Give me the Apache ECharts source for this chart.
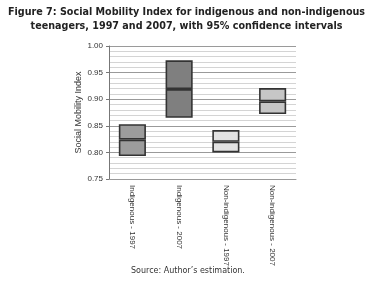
<!DOCTYPE html>
<html>
<head>
<meta charset="utf-8">
<script src="https://cdn.jsdelivr.net/npm/echarts@6/dist/echarts.min.js"></script>
<style>
  html,body{margin:0;padding:0;background:#fff;}
  #main{width:373px;height:289px;}
</style>
</head>
<body>
<div id="main"></div>
<script>
  // categories and confidence intervals
  var groups = ['Indigenous - 1997', 'Indigenous - 2007', 'Non-indigenous - 1997', 'Non-indigenous - 2007'];
  var lowVals = [0.793, 0.865, 0.800, 0.872];
  var midVals = [0.824, 0.919, 0.820, 0.896];
  var highVals = [0.853, 0.973, 0.842, 0.921];
  var boxColors = ['#9c9c9c', '#7f7f7f', '#e2e2e2', '#c6c6c6'];

  var lowPart = [], highPart = [];
  for (var i = 0; i < groups.length; i++) {
    lowPart[i] = {value: +(midVals[i] - lowVals[i]).toFixed(4), itemStyle: {color: boxColors[i]}};
    highPart[i] = {value: +(highVals[i] - midVals[i]).toFixed(4), itemStyle: {color: boxColors[i]}};
  }

  var chart = echarts.init(document.getElementById('main'));
  var option = {
    animation: false,
    title: [{
      text: 'Figure 7: Social Mobility Index for indigenous and non-indigenous\nteenagers, 1997 and 2007, with 95% confidence intervals',
      left: 'center', top: 0,
      textStyle: {fontFamily: 'DejaVu Sans', fontWeight: 'bold', fontSize: 9.6, lineHeight: 14, color: '#222'}
    }, {
      text: 'Source: Author\u2019s estimation.',
      left: 126, top: 262,
      textStyle: {fontFamily: 'DejaVu Sans', fontWeight: 'normal', fontSize: 8, color: '#333'}
    }],
    grid: {left: 109, right: 77, top: 46, bottom: 110},
    xAxis: {
      type: 'category',
      data: groups,
      axisLine: {lineStyle: {color: '#999'}},
      axisTick: {show: false},
      axisLabel: {rotate: -90, interval: 0, fontSize: 8, fontFamily: 'Liberation Sans', color: '#333', margin: 6}
    },
    yAxis: {
      type: 'value',
      min: 0.75, max: 1.0, interval: 0.05,
      name: 'Social Mobility Index',
      nameLocation: 'middle', nameGap: 26, nameMoveOverlap: false,
      nameTextStyle: {fontSize: 9, fontFamily: 'Liberation Sans', color: '#333'},
      axisLine: {show: true, lineStyle: {color: '#777'}},
      axisTick: {show: true, length: 3, lineStyle: {color: '#777'}},
      axisLabel: {fontSize: 8, fontFamily: 'Liberation Sans', color: '#333', margin: 6,
        formatter: function (v) { return v.toFixed(2); }},
      splitLine: {show: true, lineStyle: {color: '#9a9a9a', width: 1}},
      minorTick: {show: false, splitNumber: 5},
      minorSplitLine: {show: true, lineStyle: {color: '#d4d4d4', width: 1}}
    },
    series: [{
      type: 'bar', stack: 'ci', barWidth: '58%',
      data: lowVals,
      itemStyle: {color: 'transparent'},
      silent: true
    }, {
      type: 'bar', stack: 'ci',
      data: lowPart,
      itemStyle: {borderColor: '#333', borderWidth: 1.6}
    }, {
      type: 'bar', stack: 'ci',
      data: highPart,
      itemStyle: {borderColor: '#333', borderWidth: 1.6}
    }]
  };
  chart.setOption(option);
</script>
</body>
</html>
